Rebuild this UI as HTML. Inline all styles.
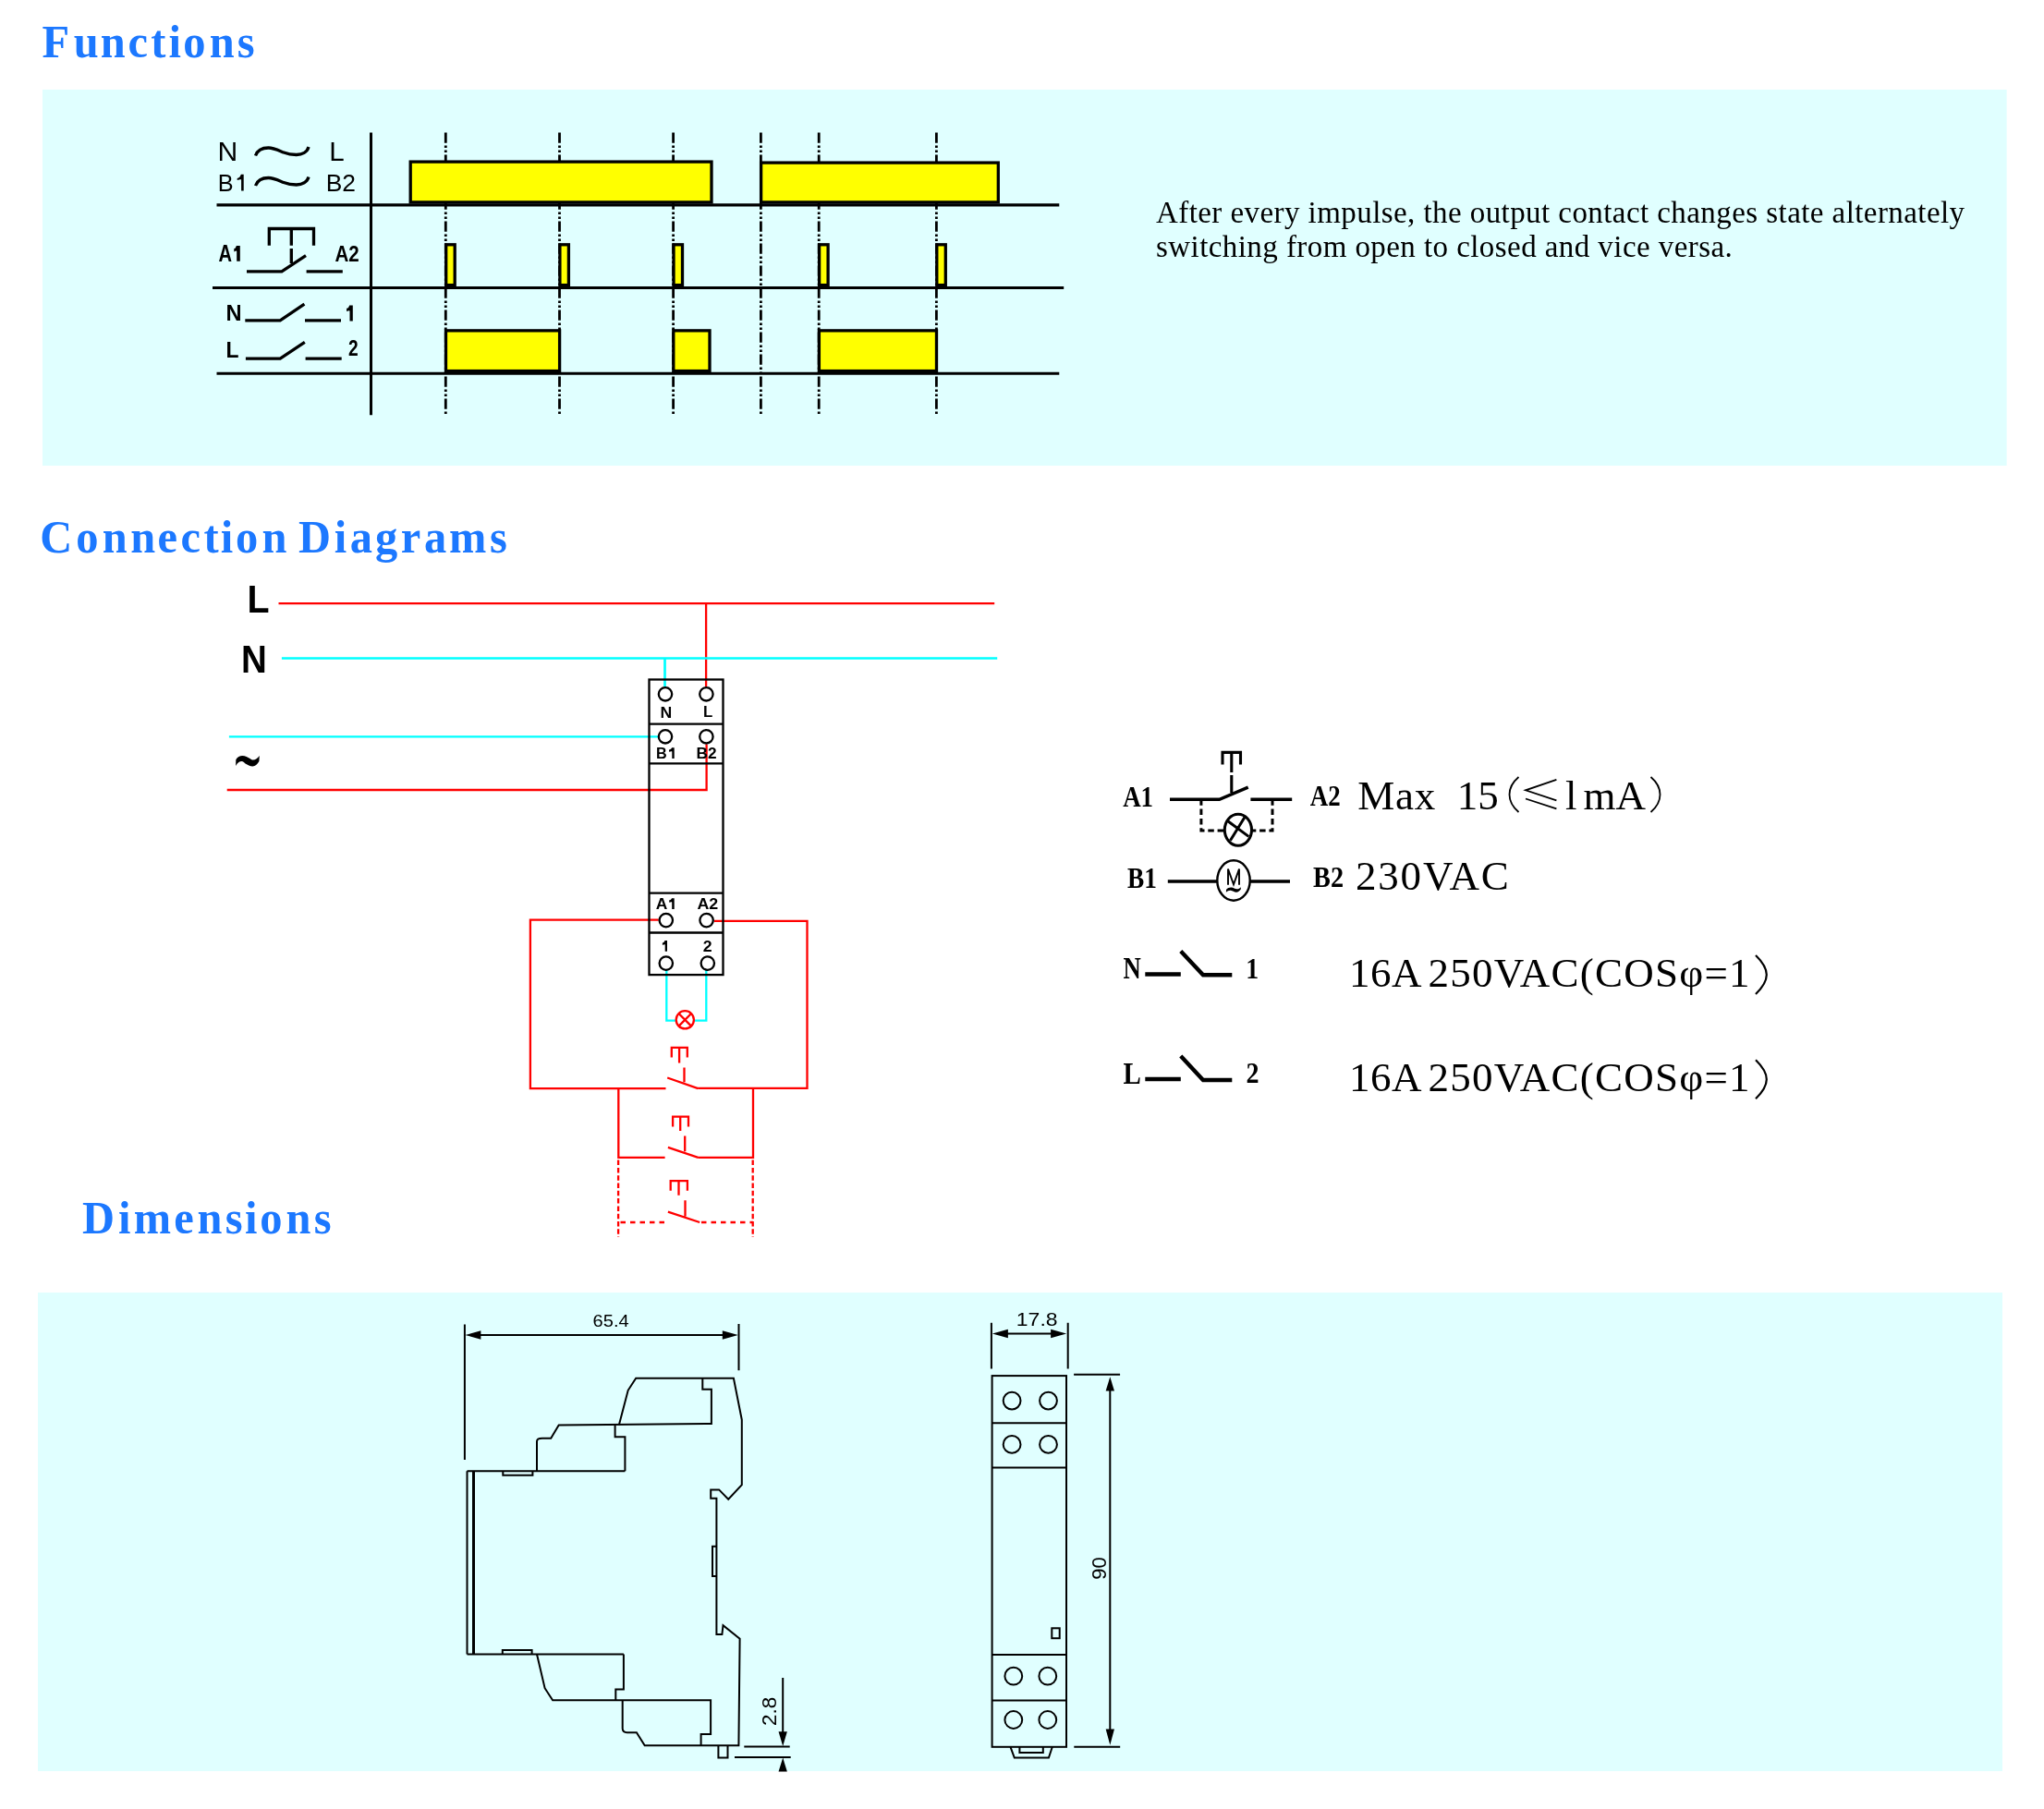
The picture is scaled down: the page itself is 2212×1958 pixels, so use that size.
<!DOCTYPE html>
<html><head><meta charset="utf-8"><style>html,body{margin:0;padding:0;background:#fff;overflow:hidden;}svg{display:block;will-change:transform;}</style></head>
<body><svg width="2212" height="1958" viewBox="0 0 2212 1958">
<rect x="46" y="97" width="2125.6" height="407" fill="#E0FFFF"/>
<rect x="41" y="1399" width="2126" height="518" fill="#E0FFFF"/>
<text transform="scale(0.95,1)" y="61.8" font-family="Liberation Serif" font-weight="bold" font-size="51" fill="#1C78FF"><tspan x="47.87">F</tspan><tspan x="83.87">u</tspan><tspan x="114.51">n</tspan><tspan x="145.79">c</tspan><tspan x="171.97">t</tspan><tspan x="192.14">i</tspan><tspan x="208.80">o</tspan><tspan x="238.62">n</tspan><tspan x="270.36">s</tspan></text>
<text transform="scale(0.95,1)" y="597.9" font-family="Liberation Serif" font-weight="bold" font-size="51" fill="#1C78FF"><tspan x="45.56">C</tspan><tspan x="86.70">o</tspan><tspan x="116.51">n</tspan><tspan x="148.62">n</tspan><tspan x="179.58">e</tspan><tspan x="205.69">c</tspan><tspan x="232.18">t</tspan><tspan x="251.30">i</tspan><tspan x="268.38">o</tspan><tspan x="298.51">n</tspan><tspan x="340.14">D</tspan><tspan x="380.87">i</tspan><tspan x="398.79">a</tspan><tspan x="427.46">g</tspan><tspan x="456.62">r</tspan><tspan x="483.10">a</tspan><tspan x="511.57">m</tspan><tspan x="557.84">s</tspan></text>
<text transform="scale(0.95,1)" y="1335.1" font-family="Liberation Serif" font-weight="bold" font-size="51" fill="#1C78FF"><tspan x="93.61">D</tspan><tspan x="134.77">i</tspan><tspan x="152.41">m</tspan><tspan x="198.22">e</tspan><tspan x="224.83">n</tspan><tspan x="256.68">s</tspan><tspan x="278.87">i</tspan><tspan x="296.07">o</tspan><tspan x="325.67">n</tspan><tspan x="357.52">s</tspan></text>
<g stroke="#000" fill="none">
<line x1="401.5" y1="143.5" x2="401.5" y2="449.2" stroke-width="3"/>
<line x1="234.5" y1="221.8" x2="1146.3" y2="221.8" stroke-width="3.3"/>
<line x1="230" y1="311.5" x2="1151.2" y2="311.5" stroke-width="3.1"/>
<line x1="234.5" y1="404.3" x2="1146.3" y2="404.3" stroke-width="3.1"/>
<line x1="482.3" y1="143.5" x2="482.3" y2="449" stroke-width="2.8" stroke-dasharray="11.3 2.8 2.5 2.5 2.5 2.4"/>
<line x1="605.5" y1="143.5" x2="605.5" y2="449" stroke-width="2.8" stroke-dasharray="11.3 2.8 2.5 2.5 2.5 2.4"/>
<line x1="728.6" y1="143.5" x2="728.6" y2="449" stroke-width="2.8" stroke-dasharray="11.3 2.8 2.5 2.5 2.5 2.4"/>
<line x1="823.4" y1="143.5" x2="823.4" y2="449" stroke-width="2.8" stroke-dasharray="11.3 2.8 2.5 2.5 2.5 2.4"/>
<line x1="886.2" y1="143.5" x2="886.2" y2="449" stroke-width="2.8" stroke-dasharray="11.3 2.8 2.5 2.5 2.5 2.4"/>
<line x1="1013.4" y1="143.5" x2="1013.4" y2="449" stroke-width="2.8" stroke-dasharray="11.3 2.8 2.5 2.5 2.5 2.4"/>
</g>
<g stroke="#000" fill="#FFFF00" stroke-width="3.3">
<rect x="444.2" y="175.1" width="325.8" height="43.8"/>
<rect x="823.6" y="176.1" width="256.7" height="42.8"/>
<rect x="482.7" y="264.8" width="9.5" height="43.8"/>
<rect x="605.9" y="264.8" width="9.5" height="43.8"/>
<rect x="729.0" y="264.8" width="9.5" height="43.8"/>
<rect x="886.6" y="264.8" width="9.5" height="43.8"/>
<rect x="1013.8" y="264.8" width="9.5" height="43.8"/>
<rect x="482.5" y="357.85" width="123.1" height="43.7"/>
<rect x="728.8" y="357.85" width="39.2" height="43.7"/>
<rect x="886.4" y="357.85" width="127.1" height="43.7"/>
</g>
<g stroke="#000" fill="none" stroke-width="3.3">
<path d="M276.5,168.5 C279,161.5 284,160 290.5,160 C296,160 302,163 307,165 C312,167 316,167.5 320.8,167.5 C327,167.5 332.5,164.5 334,159"/>
<path d="M276.5,201 C279,194 284,192.5 290.5,192.5 C296,192.5 302,195.5 307,197.5 C312,199.5 316,200 320.8,200 C327,200 332.5,197 334,191.5"/>
<path d="M291.3,265.8 V247.5 H339.5 V265.8 M315.3,247.5 V265.8 M315.3,269.1 V285"/>
<path d="M267,293.9 H304.9 L331,276.6 M331.6,293.9 H370.8"/>
<path d="M265.3,346.8 H303.2 L329.4,329.1 M330,346.8 H369"/>
<path d="M265.9,388.2 H303.2 L329.8,370.3 M330.6,388.2 H369.7"/>
</g>
<text transform="translate(235.5,174.0) scale(0.999,1)" font-family="Liberation Sans" font-weight="normal" font-size="30.2" fill="#000" >N</text>
<text transform="translate(356.34,174.0) scale(0.98,1)" font-family="Liberation Sans" font-weight="normal" font-size="30.14" fill="#000" >L</text>
<text transform="translate(235.68,206.5) scale(0.98,1)" font-family="Liberation Sans" font-weight="normal" font-size="25.8" fill="#000" >B</text>
<text transform="translate(352.69,206.6) scale(1.051,1)" font-family="Liberation Sans" font-weight="normal" font-size="25.14" fill="#000" >B2</text>
<text transform="translate(236.5,283.05) scale(0.811,1)" font-family="Liberation Sans" font-weight="bold" font-size="24.85" fill="#000" >A</text>
<text transform="translate(362.38,282.8) scale(0.852,1)" font-family="Liberation Sans" font-weight="bold" font-size="24.14" fill="#000" >A2</text>
<text transform="translate(244.55,347.0) scale(0.982,1)" font-family="Liberation Sans" font-weight="bold" font-size="24.06" fill="#000" >N</text>
<text transform="translate(244.59,387.4) scale(0.971,1)" font-family="Liberation Sans" font-weight="bold" font-size="23.62" fill="#000" >L</text>
<text transform="translate(377.02,384.9) scale(0.804,1)" font-family="Liberation Sans" font-weight="bold" font-size="23.86" fill="#000" >2</text>
<path fill="#000" d="M263.7,206.5 L263.7,188.7 L260.84,188.7 C260.06,190.87 258.80,192.81 256.7,193.00 L256.7,194.9 C259.15,194.62 260.58,193.66 261.09999999999997,194.59 L261.09999999999997,206.5 Z"/>
<path fill="#000" d="M259.8,282.8 L259.8,265.9 L255.84,265.9 C254.76,268.17 255.25,268.64 253.3,268.98 L253.3,272.4 C255.58,271.89 255.48,271.10 256.2,272.07 L256.2,282.8 Z"/>
<path fill="#000" d="M381.8,347.6 L381.8,330.4 L378.17,330.4 C377.18,332.71 377.11,333.55 375.1,333.87 L375.1,337 C377.44,336.53 377.84,335.68 378.5,336.67 L378.5,347.6 Z"/>
<text x="1251" y="240.5" font-family="Liberation Serif" font-size="33" letter-spacing="0.43">After every impulse, the output contact changes state alternately</text>
<text x="1251" y="277.5" font-family="Liberation Serif" font-size="33" letter-spacing="0.43">switching from open to closed and vice versa.</text>
<text transform="translate(267.5,662.8) scale(0.94,1)" font-family="Liberation Sans" font-weight="bold" font-size="41.9" fill="#000" >L</text>
<text transform="translate(261.0,727.8) scale(0.92,1)" font-family="Liberation Sans" font-weight="bold" font-size="41.9" fill="#000" >N</text>
<g fill="none" stroke-width="2.3">
<path stroke="#FF0000" d="M301.5,653.2 H1076.2 M764.1,653.2 V743"/>
<path stroke="#00FFFF" stroke-width="2.7" d="M304.9,712.5 H1079.2 M719.5,712.5 V743"/>
<path stroke="#00FFFF" d="M247.9,797.3 H712.7"/>
<path stroke="#FF0000" d="M245.7,855 H764.6 V805.5"/>
<path stroke="#FF0000" d="M712.7,995.7 H573.9 V1178.1 H720.5 M772.9,996.9 H873.5 V1177.9 H755.4 M722.2,1166.5 L755.4,1178.2 M740.5,1155.4 V1171.2 M726.8,1144.6 V1133.8 H743.8 V1144.6 M735.1,1133.8 V1150.4"/>
<path stroke="#FF0000" d="M669.3,1178 V1252.8 H719.6 M815,1178 V1252.8 H755.5 M722.9,1241.8 L755.5,1252.8 M728.1,1219.4 V1208.6 H745 V1219.4 M736.2,1208.6 V1223.9 M741.2,1229.6 V1246.2"/>
<path stroke="#FF0000" stroke-dasharray="5.5 2.8" d="M669.1,1255.6 V1339 M814.7,1255.6 V1339"/>
<path stroke="#FF0000" stroke-dasharray="5.5 5" d="M671.5,1323 H719.6 M759,1323 H815"/>
<path stroke="#FF0000" d="M722.9,1311.6 L757.2,1323 M725.7,1288.7 V1278.2 H743.9 V1288.7 M734.5,1278.2 V1293.7 M741.5,1299.3 V1316.4"/>
<path stroke="#00FFFF" d="M721.3,1050 V1104.7 H731 M764.3,1050 V1104.7 H751.5"/>
<circle cx="741.3" cy="1103.8" r="9.6" stroke="#FF0000"/>
<path stroke="#FF0000" d="M734.5,1097 L748.1,1110.6 M748.1,1097 L734.5,1110.6"/>
</g>
<g fill="none" stroke="#000" stroke-width="2.3">
<rect x="702.5" y="735.5" width="80" height="319.6"/>
<line x1="702.5" y1="783.6" x2="782.5" y2="783.6"/>
<line x1="702.5" y1="826.3" x2="782.5" y2="826.3"/>
<line x1="702.5" y1="966.6" x2="782.5" y2="966.6"/>
<line x1="702.5" y1="1009.5" x2="782.5" y2="1009.5"/>
<circle cx="720" cy="751.3" r="7.2"/>
<circle cx="764.4" cy="751.3" r="7.2"/>
<circle cx="720" cy="797.3" r="7.2"/>
<circle cx="764.4" cy="797.3" r="7.2"/>
<circle cx="720.8" cy="996.1" r="7.2"/>
<circle cx="764.6" cy="996.1" r="7.2"/>
<circle cx="720.8" cy="1042.6" r="7.2"/>
<circle cx="765.8" cy="1042.6" r="7.2"/>
</g>
<text transform="translate(714.57,776.8) scale(1.046,1)" font-family="Liberation Sans" font-weight="bold" font-size="16.81" fill="#000" >N</text>
<text transform="translate(760.92,776.1) scale(1.003,1)" font-family="Liberation Sans" font-weight="bold" font-size="16.81" fill="#000" >L</text>
<text transform="translate(709.96,820.9) scale(0.957,1)" font-family="Liberation Sans" font-weight="bold" font-size="16.96" fill="#000" >B</text>
<text transform="translate(753.59,821.2) scale(1.033,1)" font-family="Liberation Sans" font-weight="bold" font-size="16.71" fill="#000" >B2</text>
<text transform="translate(709.78,984.17) scale(1.004,1)" font-family="Liberation Sans" font-weight="bold" font-size="17.35" fill="#000" >A</text>
<text transform="translate(754.46,984.1) scale(1.106,1)" font-family="Liberation Sans" font-weight="bold" font-size="16.14" fill="#000" >A2</text>
<text transform="translate(760.77,1029.8) scale(1.071,1)" font-family="Liberation Sans" font-weight="bold" font-size="16.57" fill="#000" >2</text>
<path fill="#000" d="M729.7,984 L729.7,972.2 L726.95,972.2 C726.20,973.78 725.85,974.09 724.2,974.33 L724.2,976.7 C726.12,976.34 726.70,975.80 727.2,976.48 L727.2,984 Z"/>
<path fill="#000" d="M722,1029.8 L722,1018 L719.47,1018 C718.78,1019.64 718.43,1020.30 716.9,1020.52 L716.9,1022.7 C718.68,1022.37 719.24,1021.76 719.7,1022.47 L719.7,1029.8 Z"/>
<path fill="#000" d="M729.7,820.9 L729.7,809.2 L727.06,809.2 C726.34,810.78 725.71,811.19 724,811.42 L724,813.7 C726.00,813.36 726.82,812.80 727.3000000000001,813.48 L727.3000000000001,820.9 Z"/>
<path fill="#000" d="M255.1,828.9 L255.3,822.3 C257,819 259.5,818 262.3,818 C265.5,818 268,819.5 270.5,821 C272,822 273,822.6 273.8,822.6 C276.5,822.6 279,820.5 280.8,818 L280.4,824.1 C278.5,827.5 276,829.4 273.5,829.4 C270.5,829.4 268,828 265.5,826.5 C264,825.5 263,824.1 261.7,824.1 C259,824.1 257,826 255.1,828.9 Z"/>
<g fill="none" stroke="#000" stroke-width="3.5">
<path d="M1266,865.3 H1319.6 L1350.7,852.2 M1353.4,865.3 H1398.2"/>
<path stroke-width="3.1" d="M1323,827.5 V814.4 H1342.5 V827.5 M1332.8,814.4 V836.1 M1332.8,839.1 V858"/>
<path stroke-width="3" stroke-dasharray="6.5 3.8" d="M1299.9,865.3 V899.1 H1325"/>
<path stroke-width="3" stroke-dasharray="6.5 3.8" d="M1377,865.3 V899.1 H1355"/>
<ellipse cx="1339.9" cy="898.2" rx="14.6" ry="17" stroke-width="3"/>
<path stroke-width="3" d="M1328.1,888.2 L1351.3,905.4 M1347,884.5 L1331.4,909.7"/>
<path d="M1263.8,954.1 H1317.4 M1352.6,954.1 H1396"/>
<ellipse cx="1335" cy="953" rx="17.7" ry="21.7" stroke-width="2.4"/>
<path stroke-width="1.9" stroke-linejoin="miter" d="M1329,957.7 V940.6 L1335,957.3 L1341,940.6 V957.7"/>
<path fill="#000" stroke="none" d="M1326.9,965.8 L1327,963 C1328.5,961.3 1330.5,960.5 1332.5,960.6 C1335,960.8 1336.5,962.3 1338.5,962.3 C1340.3,962.3 1341.8,961.2 1342.8,960.2 L1342.8,962.5 C1341.5,964.5 1339.8,965.7 1338,965.7 C1335.5,965.7 1334,964 1331.8,963.8 C1329.8,963.7 1328.2,964.6 1326.9,965.8 Z"/>
<path stroke-width="4.4" d="M1239.3,1054.5 H1277.8 M1277.8,1029.5 L1302,1055.2 H1333.3"/>
<path stroke-width="4.4" d="M1239.3,1168 H1277.8 M1277.8,1143 L1302,1169 H1333.3"/>
</g>
<text transform="translate(1215.13,872.7) scale(0.864,1)" font-family="Liberation Serif" font-weight="bold" font-size="31.21" fill="#000" >A1</text>
<text transform="translate(1417.73,872.39) scale(0.859,1)" font-family="Liberation Serif" font-weight="bold" font-size="31.34" fill="#000" >A2</text>
<text transform="translate(1219.95,960.7) scale(0.881,1)" font-family="Liberation Serif" font-weight="bold" font-size="31.06" fill="#000" >B1</text>
<text transform="translate(1421.03,960.39) scale(0.91,1)" font-family="Liberation Serif" font-weight="bold" font-size="31.06" fill="#000" >B2</text>
<text transform="translate(1215.57,1059.3) scale(0.81,1)" font-family="Liberation Serif" font-weight="bold" font-size="32.92" fill="#000" >N</text>
<text transform="translate(1348.17,1059.3) scale(0.859,1)" font-family="Liberation Serif" font-weight="bold" font-size="32.42" fill="#000" >1</text>
<text transform="translate(1215.52,1172.6) scale(0.877,1)" font-family="Liberation Serif" font-weight="bold" font-size="33.08" fill="#000" >L</text>
<text transform="translate(1348.58,1172.27) scale(0.862,1)" font-family="Liberation Serif" font-weight="bold" font-size="32.58" fill="#000" >2</text>
<text x="1469.2" y="876.4" font-family="Liberation Serif" font-size="45" letter-spacing="0.75">Max</text>
<text x="1576.7" y="876.4" font-family="Liberation Serif" font-size="45">15</text>
<text x="1694" y="876.4" font-family="Liberation Serif" font-size="45">l</text>
<text x="1713.4" y="876.4" font-family="Liberation Serif" font-size="45">mA</text>
<path fill="none" stroke="#000" stroke-width="1.8" d="M1643.5,841 Q1633.5,849.5 1633.5,860 Q1633.5,870.5 1643.5,879 M1786.5,841 Q1796.5,849.5 1796.5,860 Q1796.5,870.5 1786.5,879 M1684.4,843.8 L1651,855.3 L1684.4,866.3 M1651,864.5 L1684.4,875.3"/>
<text x="1467" y="962.5" font-family="Liberation Serif" font-size="45" letter-spacing="1.8">230VAC</text>
<text x="1460.1" y="1067.7" font-family="Liberation Serif" font-size="45" letter-spacing="0.5">16A</text>
<text x="1545.5" y="1067.7" font-family="Liberation Serif" font-size="45" letter-spacing="1.25">250VAC(COSφ=1</text>
<path fill="none" stroke="#000" stroke-width="2.2" d="M1900,1034.0 Q1911.8,1045.5 1911.8,1055.0 Q1911.8,1064.5 1900,1076.0"/>
<text x="1460.1" y="1180.9" font-family="Liberation Serif" font-size="45" letter-spacing="0.5">16A</text>
<text x="1545.5" y="1180.9" font-family="Liberation Serif" font-size="45" letter-spacing="1.25">250VAC(COSφ=1</text>
<path fill="none" stroke="#000" stroke-width="2.2" d="M1900,1147.2 Q1911.8,1158.7 1911.8,1168.2 Q1911.8,1177.7 1900,1189.2"/>
<g fill="none" stroke="#000" stroke-width="2">
<path d="M505.5,1592.3 V1790.5 M505.5,1592.3 H676.4 M505.5,1790.5 H674.9"/>
<path stroke-width="3" d="M512.5,1592.3 V1790.5"/>
<path d="M544.3,1592.3 V1596.7 H576.4 V1592.3 M543.8,1790.5 V1786.1 H575.6 V1790.5"/>
<path d="M581,1592.3 V1560.2 Q581,1556.8 586.9,1556.8 H596.2 L604.7,1542.6 L769.9,1540.9 V1503.8 H760.3 V1491.8"/>
<path d="M665.6,1542.6 V1555.3 H676.4 V1592.3"/>
<path d="M669.9,1542.3 L679.7,1504.8 L688.2,1491.8 H793.9 L802.8,1536.7 V1607.2 L788.2,1622.7 L778.1,1612.4 H769.2 V1621.8 H775.4 V1769.1 H781.4 L782.5,1759.2 L800.6,1773.8 L799.4,1889.2 H697.7 L688.9,1875.2 H678.6 Q673.7,1875.2 673.7,1870.8 V1840.3"/>
<path d="M775.2,1673.7 H771 V1706.1 H775.2"/>
<path d="M581,1790.5 L589.6,1827.2 L598.1,1840.3 H769.1 V1877.1 H758.6 V1889.2 M666.3,1840.3 V1828.5 H674.9 V1790.5"/>
<path d="M777.4,1889.2 V1902.6 H787.5 V1889.2"/>
<path d="M502.9,1433.4 V1580 M799.5,1433 V1483.2 M510,1445 H792"/>
<path d="M847.2,1816 V1880 M805.3,1890.4 H854.7 M795,1902.1 H855.7"/>
<rect x="1073.6" y="1489.1" width="80.4" height="401.7"/>
<line x1="1073.6" y1="1540.3" x2="1154" y2="1540.3"/>
<line x1="1073.6" y1="1588.6" x2="1154" y2="1588.6"/>
<line x1="1073.6" y1="1791" x2="1154" y2="1791"/>
<line x1="1073.6" y1="1840.4" x2="1154" y2="1840.4"/>
<circle cx="1095.1" cy="1516.1" r="9.4"/><circle cx="1134.5" cy="1516.1" r="9.4"/>
<circle cx="1095.1" cy="1563.4" r="9.4"/><circle cx="1134.5" cy="1563.4" r="9.4"/>
<circle cx="1096.8" cy="1814.2" r="9.4"/><circle cx="1133.8" cy="1814.2" r="9.4"/>
<circle cx="1096.8" cy="1861.5" r="9.4"/><circle cx="1133.8" cy="1861.5" r="9.4"/>
<rect x="1138.3" y="1762.3" width="8.4" height="10.9"/>
<path d="M1093.5,1890.8 L1097.8,1902.6 H1134.9 L1138.8,1890.8 M1103.4,1890.8 V1897.1 H1128.8 V1890.8"/>
<path d="M1072.9,1431.8 V1481.6 M1155.7,1431.8 V1481.6 M1080,1443.5 H1148"/>
<path d="M1162.1,1487.8 H1212.1 M1162.3,1890.8 H1212.2 M1201.3,1500 V1880"/>
</g>
<path d="M503.4,1445 L520.40,1440.35 L520.40,1449.65 Z" fill="#000"/>
<path d="M798.8,1445 L781.80,1449.65 L781.80,1440.35 Z" fill="#000"/>
<path d="M847.2,1889.9 L842.55,1874.20 L851.85,1874.20 Z" fill="#000"/>
<path d="M847.2,1902.6 L851.85,1917.60 L842.55,1917.60 Z" fill="#000"/>
<path d="M1073.9,1443.5 L1090.90,1438.85 L1090.90,1448.15 Z" fill="#000"/>
<path d="M1154.1,1443.5 L1137.10,1448.15 L1137.10,1438.85 Z" fill="#000"/>
<path d="M1201.3,1490.2 L1205.95,1505.50 L1196.65,1505.50 Z" fill="#000"/>
<path d="M1201.3,1888.8 L1196.65,1871.40 L1205.95,1871.40 Z" fill="#000"/>
<text transform="translate(641.6,1436.21) scale(1.079,1)" font-family="Liberation Sans" font-weight="normal" font-size="18.59" fill="#000" >65.4</text>
<text transform="translate(1099.86,1434.59) scale(1.094,1)" font-family="Liberation Sans" font-weight="normal" font-size="20.99" fill="#000" >17.8</text>
<text transform="translate(839.5,1867.9) rotate(-90)" font-family="Liberation Sans" font-size="22.5">2.8</text>
<text transform="translate(1196.8,1709.8) rotate(-90)" font-family="Liberation Sans" font-size="22">90</text>
</svg></body></html>
